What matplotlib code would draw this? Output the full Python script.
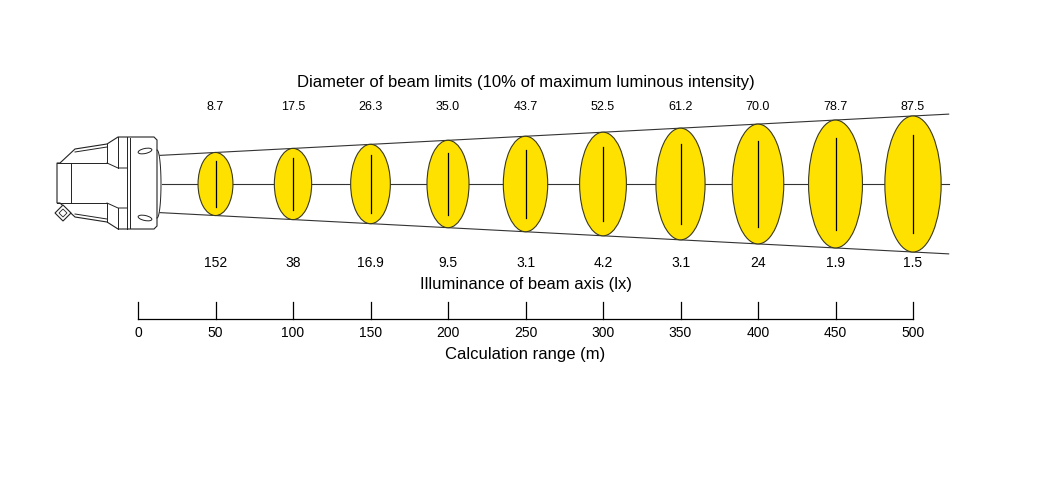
import matplotlib
matplotlib.use('Agg')
import matplotlib.pyplot as plt
from matplotlib.patches import Ellipse, Polygon
import numpy as np

plt.rcParams['font.family'] = ['Liberation Sans', 'DejaVu Sans']

# 数据
distance = [50, 100, 150, 200, 250, 300, 350, 400, 450, 500]          # 计算距离 (m)
diameter = [8.7, 17.5, 26.3, 35.0, 43.7, 52.5, 61.2, 70.0, 78.7, 87.5]  # 光束直径 (m)
illum_labels = ['152', '38', '16.9', '9.5', '3.1', '4.2', '3.1', '24', '1.9', '1.5']
diam_labels = ['8.7', '17.5', '26.3', '35.0', '43.7', '52.5', '61.2', '70.0', '78.7', '87.5']
range_ticks = [0, 50, 100, 150, 200, 250, 300, 350, 400, 450, 500]

# 示意图比例 (直径 -> 画面高度/宽度)
H0, HK = 55.0, 0.926
W0, WK = 21.0, 0.175

fig = plt.figure(figsize=(10.64, 5.0), dpi=100)
ax = fig.add_axes([0, 0, 1, 1])
ax.set_xlim(-138 / 1.55, 926 / 1.55)
ax.set_ylim(-316, 184)
ax.axis('off')

yellow = '#FFE100'
edge = '#3a3a20'
lc = '#333333'

# 光束椭圆
for d, D in zip(distance, diameter):
    h = H0 + HK * D
    w = W0 + WK * D
    ax.add_patch(Ellipse((d, 0), w, h, facecolor=yellow, edgecolor=edge, lw=0.8, zorder=2))
    ax.plot([d, d], [-0.36 * h, 0.36 * h], color='black', lw=0.9, zorder=3)

# 光束边界线
h_first = (H0 + HK * diameter[0]) / 2
h_last = (H0 + HK * diameter[-1]) / 2
slope = (h_last - h_first) / (distance[-1] - distance[0])
xs = np.array([14.2, 523.0])
ys = h_first + slope * (xs - distance[0])
ax.plot(xs, ys, color=lc, lw=0.8, zorder=1)
ax.plot(xs, -ys, color=lc, lw=0.8, zorder=1)
ax.plot([15.5, 523.0], [0, 0], color=lc, lw=0.8, zorder=1)

# 文字
ax.text(250, 102, 'Diameter of beam limits (10% of maximum luminous intensity)',
        ha='center', va='center', fontsize=12)
for d, s in zip(distance, diam_labels):
    ax.text(d, 77, s, ha='center', va='center', fontsize=9)
for d, s in zip(distance, illum_labels):
    ax.text(d, -79, s, ha='center', va='center', fontsize=10)
ax.text(250, -100, 'Illuminance of beam axis (lx)', ha='center', va='center', fontsize=12)

# 距离轴
ax.plot([0, 500], [-135, -135], color='black', lw=0.9)
for t in range_ticks:
    ax.plot([t, t], [-135, -118], color='black', lw=0.9)
    ax.text(t, -149, str(t), ha='center', va='center', fontsize=10)
ax.text(250, -170, 'Calculation range (m)', ha='center', va='center', fontsize=12)

# 灯具 (像素坐标)
lx = fig.add_axes([0, 0, 1, 1])
lx.set_xlim(0, 1064)
lx.set_ylim(500, 0)
lx.axis('off')
lx.patch.set_alpha(0)
k = dict(color='#222222', lw=0.7)
body = [(57, 163), (60, 163), (75, 149), (107, 144), (118, 137), (154, 137), (157, 140),
        (157, 226), (154, 229), (118, 229), (107, 222), (75, 217), (60, 203), (57, 203)]
lx.add_patch(Polygon(body, closed=True, facecolor='white', edgecolor='#222222', lw=0.8))
lx.plot([71, 71], [163, 203], **k)
lx.plot([57, 107], [163, 163], **k)
lx.plot([57, 107], [203, 203], **k)
lx.plot([107, 107], [144, 163], **k)
lx.plot([107, 107], [203, 222], **k)
lx.plot([107, 118, 127], [163, 168, 168], **k)
lx.plot([107, 118, 127], [203, 208, 208], **k)
lx.plot([118, 118], [137, 168], **k)
lx.plot([118, 118], [208, 229], **k)
lx.plot([127, 127], [137, 229], **k)
lx.plot([130, 130], [138, 228], **k)
lx.plot([75, 107], [152, 147], **k)
lx.plot([75, 107], [214, 219], **k)
t = np.linspace(-np.pi / 2, np.pi / 2, 30)
lx.plot(157 + 4 * np.cos(t), 184 + 34 * np.sin(t), **k)
for yc in (151, 218):
    sl = Ellipse((145, yc), 14, 5, angle=-12 if yc < 184 else 12,
                 facecolor='white', edgecolor='#222222', lw=0.7)
    lx.add_patch(sl)
conn = Polygon([(55, 213), (63, 205), (71, 213), (63, 221)], closed=True,
               facecolor='white', edgecolor='#222222', lw=0.8)
lx.add_patch(conn)
lx.add_patch(Polygon([(59, 213), (63, 209), (67, 213), (63, 217)], closed=True,
                     facecolor='white', edgecolor='#222222', lw=0.6))

fig.savefig('out.png', dpi=100)
